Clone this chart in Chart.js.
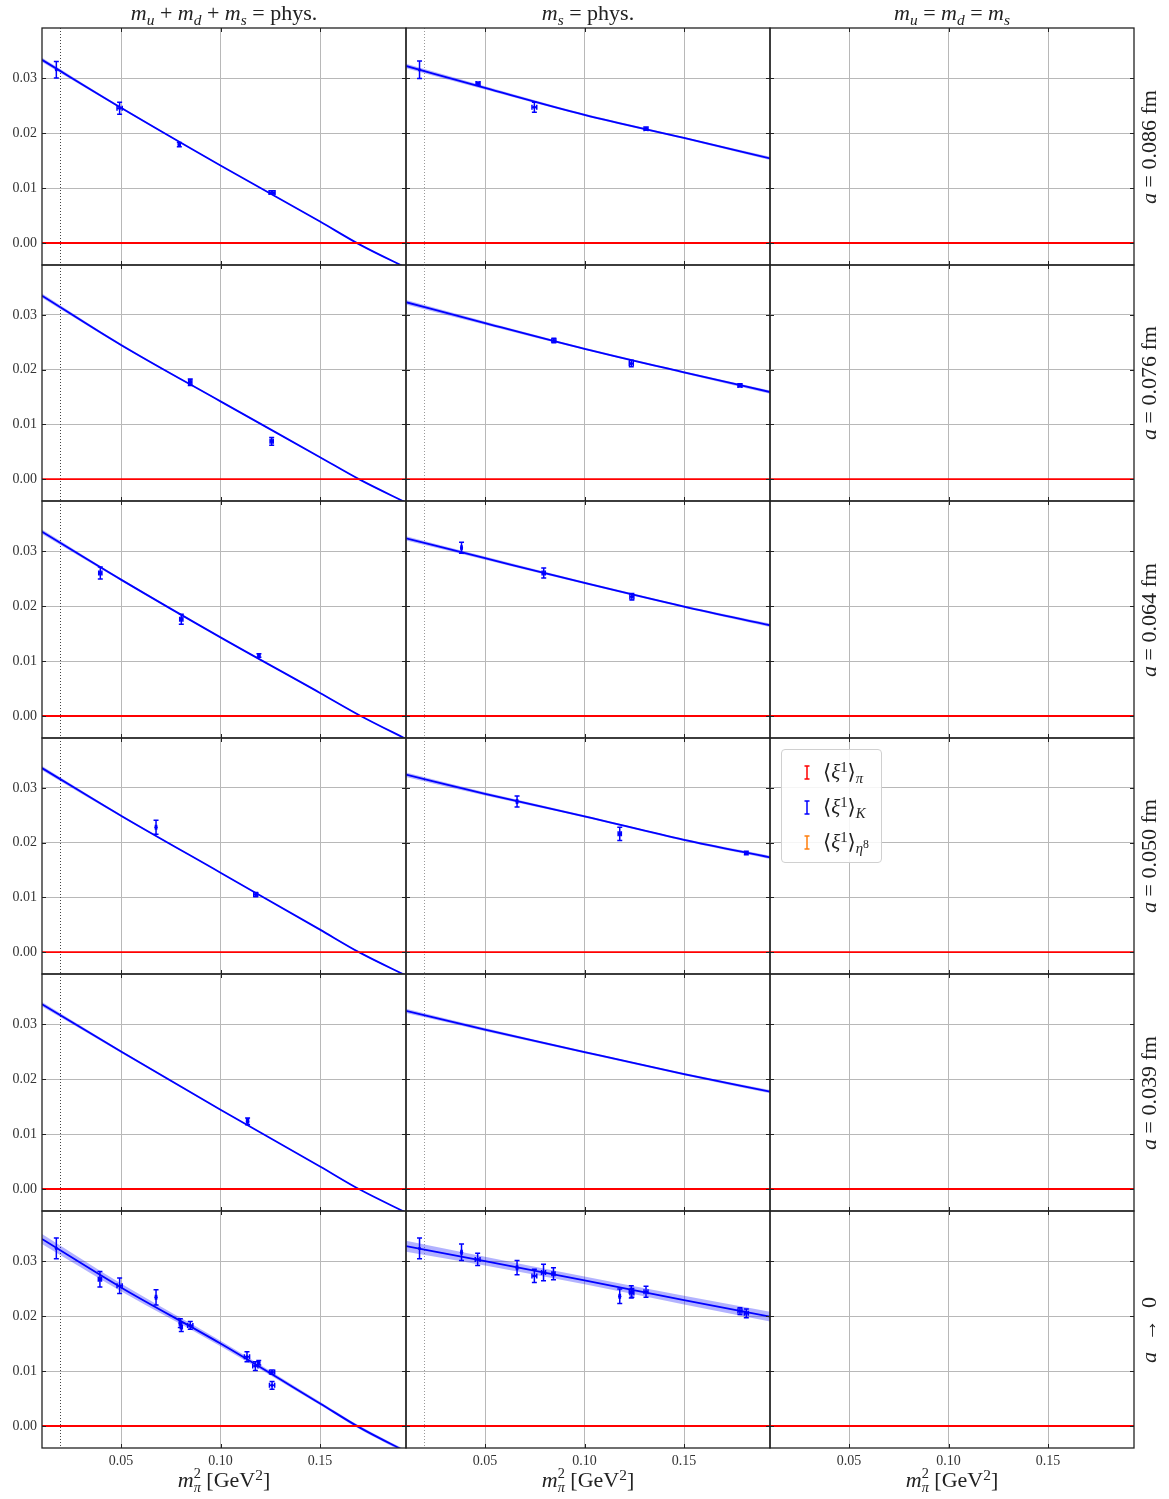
<!DOCTYPE html>
<html>
<head>
<meta charset="utf-8">
<script src="https://cdn.jsdelivr.net/npm/chart.js@4.4.0/dist/chart.umd.min.js"></script>
<style>
  body { margin: 0; background: #fff; }
  #fig { position: relative; width: 1169px; height: 1499px; font-family: 'Liberation Serif', 'DejaVu Serif', serif; color: #222; }
  #fig canvas { position: absolute; }
  .lbl { position: absolute; white-space: nowrap; font-size: 22px; line-height: 24px; }
  .lbl sub { font-size: 0.7em; vertical-align: -0.3em; line-height: 0; }
  .lbl sup { font-size: 0.7em; vertical-align: 0.45em; line-height: 0; }
  .ss { display: inline-block; vertical-align: -0.35em; font-size: 0.65em; line-height: 0.95; }
  .ss span { display: block; }
  .rot { transform: translate(-50%, -50%) rotate(-90deg); }
  .hc { transform: translateX(-50%); }
  #legend { position: absolute; left: 781px; top: 749px; width: 101px; height: 114px; box-sizing: border-box;
            border: 1px solid #d0d0d0; border-radius: 4px; background: rgba(255,255,255,0.85); }
  #legend .row { position: absolute; left: 0; height: 24px; font-size: 21px; line-height: 24px; white-space: nowrap; }
  #legend svg { position: absolute; left: 21px; top: 5px; }
  #legend .t { position: absolute; left: 41px; top: 0; }
  #legend sub { font-size: 0.7em; vertical-align: -0.3em; line-height: 0; }
  #legend sup { font-size: 0.7em; vertical-align: 0.45em; line-height: 0; }
  #legend sub sup { font-size: 0.8em; }
</style>
</head>
<body>
<div id="fig"></div>
<script>
// axis limits and ticks
const X_MIN = 0.0103, X_MAX = 0.1932;
const Y_MIN = -0.004, Y_MAX = 0.0391;
const xTicks = [0.05, 0.10, 0.15];
const yTicks = [0.00, 0.01, 0.02, 0.03];
const mPiPhys2 = 0.0192;

const colTitles = [
  '<i>m</i><sub><i>u</i></sub> + <i>m</i><sub><i>d</i></sub> + <i>m</i><sub><i>s</i></sub> = phys.',
  '<i>m</i><sub><i>s</i></sub> = phys.',
  '<i>m</i><sub><i>u</i></sub> = <i>m</i><sub><i>d</i></sub> = <i>m</i><sub><i>s</i></sub>'
];
const rowLabels = [
  '<i>a</i> = 0.086 fm', '<i>a</i> = 0.076 fm', '<i>a</i> = 0.064 fm',
  '<i>a</i> = 0.050 fm', '<i>a</i> = 0.039 fm', '<i>a</i> &nbsp;→&nbsp; 0'
];
const xLabel = '<i>m</i><span class="ss"><span>2</span><span><i>π</i></span></span> [GeV<sup>2</sup>]';

// fit curves, column 1 (m_u+m_d+m_s = phys.)
const fitX1 = [0.0103, 0.05, 0.10, 0.15, 0.17, 0.195];
const fitY1 = [
  [0.0333, 0.0246, 0.0141, 0.0039, -0.0003, -0.0048],
  [0.0335, 0.0245, 0.0142, 0.0040, -0.0001, -0.0046],
  [0.0335, 0.0248, 0.0143, 0.0042, 0.0001, -0.0045],
  [0.0336, 0.0249, 0.0145, 0.0041, -0.0001, -0.0046],
  [0.0336, 0.0250, 0.0144, 0.0041, -0.0001, -0.0046],
  [0.0340, 0.0252, 0.0150, 0.0041, -0.0003, -0.0050]
];
const fitE1 = [
  [0.0004, 0.0002, 0.0001, 0.0001, 0.0001, 0.0001],
  [0.0004, 0.0002, 0.0001, 0.0001, 0.0001, 0.0001],
  [0.0004, 0.0002, 0.0001, 0.0001, 0.0001, 0.0001],
  [0.0004, 0.0002, 0.0001, 0.0001, 0.0001, 0.0001],
  [0.0004, 0.0002, 0.0001, 0.0001, 0.0001, 0.0001],
  [0.0009, 0.0007, 0.0005, 0.0003, 0.0003, 0.0003]
];

// fit curves, column 2 (m_s = phys.)
const fitX2 = [0.0103, 0.05, 0.10, 0.15, 0.1932];
const fitY2 = [
  [0.0322, 0.0282, 0.0233, 0.0191, 0.0154],
  [0.0323, 0.0285, 0.0238, 0.0195, 0.0159],
  [0.0323, 0.0287, 0.0242, 0.0199, 0.0165],
  [0.0324, 0.0289, 0.0248, 0.0205, 0.0173],
  [0.0324, 0.0290, 0.0249, 0.0209, 0.0177],
  [0.0327, 0.0300, 0.0265, 0.0229, 0.0199]
];
const fitE2 = [
  [0.0004, 0.0003, 0.0002, 0.0002, 0.0003],
  [0.0004, 0.0003, 0.0002, 0.0002, 0.0003],
  [0.0004, 0.0003, 0.0002, 0.0002, 0.0003],
  [0.0004, 0.0003, 0.0002, 0.0002, 0.0003],
  [0.0004, 0.0003, 0.0002, 0.0002, 0.0003],
  [0.0010, 0.0008, 0.0007, 0.0008, 0.0009]
];

// lattice points <xi^1>_K : [m_pi^2, value, x err, y err]
const pts1 = [
  [[0.0175, 0.0315, 0, 0.0015], [0.0493, 0.0245, 0.0013, 0.0011], [0.0793, 0.0179, 0.0005, 0.0004], [0.1259, 0.0092, 0.0015, 0.0003]],
  [[0.0848, 0.0177, 0.0008, 0.0006], [0.1257, 0.0069, 0.0008, 0.0007]],
  [[0.0396, 0.0260, 0.0008, 0.0011], [0.0803, 0.0176, 0.0008, 0.0009], [0.1193, 0.0110, 0.0005, 0.0003]],
  [[0.0676, 0.0228, 0.0003, 0.0013], [0.1177, 0.0105, 0.0010, 0.0004]],
  [[0.1136, 0.0123, 0.0005, 0.0006]],
  [[0.0175, 0.0323, 0, 0.0019], [0.0394, 0.0267, 0.0008, 0.0014], [0.0493, 0.0255, 0.0013, 0.0014],
   [0.0676, 0.0234, 0.0003, 0.0014], [0.0798, 0.0187, 0.0005, 0.0008], [0.0803, 0.0180, 0.0005, 0.0008],
   [0.0848, 0.0183, 0.0013, 0.0007], [0.1133, 0.0126, 0.0013, 0.0009], [0.1175, 0.0109, 0.0013, 0.0008],
   [0.1192, 0.0115, 0.0005, 0.0004], [0.1259, 0.0098, 0.0013, 0.0004], [0.1259, 0.0074, 0.0013, 0.0007]]
];
const pts2 = [
  [[0.0171, 0.0315, 0, 0.0016], [0.0465, 0.0290, 0.0010, 0.0003], [0.0748, 0.0247, 0.0012, 0.0009], [0.1309, 0.0208, 0.0010, 0.0003]],
  [[0.0846, 0.0253, 0.0010, 0.0004], [0.1235, 0.0211, 0.0010, 0.0006], [0.1781, 0.0171, 0.0010, 0.0003]],
  [[0.0382, 0.0306, 0.0003, 0.0010], [0.0795, 0.0260, 0.0008, 0.0009], [0.1238, 0.0217, 0.0010, 0.0006]],
  [[0.0661, 0.0275, 0.0003, 0.0010], [0.1177, 0.0216, 0.0008, 0.0012], [0.1813, 0.0181, 0.0008, 0.0003]],
  [],
  [[0.0171, 0.0323, 0, 0.0019], [0.0382, 0.0316, 0.0003, 0.0015], [0.0463, 0.0303, 0.0012, 0.0011],
   [0.0661, 0.0288, 0.0003, 0.0013], [0.0748, 0.0273, 0.0012, 0.0012], [0.0794, 0.0279, 0.0010, 0.0015],
   [0.0844, 0.0277, 0.0008, 0.0011], [0.1177, 0.0236, 0.0003, 0.0013], [0.1235, 0.0244, 0.0010, 0.0011],
   [0.1238, 0.0242, 0.0010, 0.0008], [0.1309, 0.0244, 0.0010, 0.0010], [0.1781, 0.0209, 0.0010, 0.0006],
   [0.1813, 0.0205, 0.0010, 0.0008]]
];

// layout of the grid of panels
const colL = [42, 406, 770], colW = 364;
const rowT = [28, 265, 501, 738, 974, 1211, 1448];
const padL = 50, padR = 12, padT = 22, padB = 34;
const BLUE = '#0000ff';

const fig = document.getElementById('fig');

const errorBars = {
  id: 'errorBars',
  afterDatasetsDraw(chart) {
    const { ctx, scales: { x, y } } = chart;
    chart.data.datasets.forEach(ds => {
      if (!ds.errs) return;
      ctx.save();
      ctx.strokeStyle = ds.borderColor;
      ctx.lineWidth = 1.5;
      ds.data.forEach((p, i) => {
        const [ex, ey] = ds.errs[i];
        const px = x.getPixelForValue(p.x), py = y.getPixelForValue(p.y);
        const cap = 2.5;
        ctx.beginPath();
        const ya = y.getPixelForValue(p.y - ey), yb = y.getPixelForValue(p.y + ey);
        ctx.moveTo(px, ya); ctx.lineTo(px, yb);
        ctx.moveTo(px - cap, ya); ctx.lineTo(px + cap, ya);
        ctx.moveTo(px - cap, yb); ctx.lineTo(px + cap, yb);
        if (ex > 0) {
          const xa = x.getPixelForValue(p.x - ex), xb = x.getPixelForValue(p.x + ex);
          ctx.moveTo(xa, py); ctx.lineTo(xb, py);
          ctx.moveTo(xa, py - cap); ctx.lineTo(xa, py + cap);
          ctx.moveTo(xb, py - cap); ctx.lineTo(xb, py + cap);
        }
        ctx.stroke();
      });
      ctx.restore();
    });
  }
};

const frame = {
  id: 'frame',
  beforeDatasetsDraw(chart, args, opts) {
    if (!opts.physLine) return;
    const { ctx, chartArea: a, scales: { x } } = chart;
    const px = Math.round(x.getPixelForValue(mPiPhys2)) + 0.5;
    ctx.save();
    ctx.strokeStyle = opts.physLine;
    ctx.lineWidth = 1;
    ctx.setLineDash([1, 2]);
    ctx.beginPath(); ctx.moveTo(px, a.top); ctx.lineTo(px, a.bottom); ctx.stroke();
    ctx.restore();
  },
  afterDraw(chart) {
    const { ctx, chartArea: a, scales: { x, y } } = chart;
    ctx.save();
    ctx.strokeStyle = '#222';
    ctx.lineWidth = 1;
    ctx.beginPath();
    xTicks.forEach(v => {
      const px = Math.round(x.getPixelForValue(v)) + 0.5;
      ctx.moveTo(px, a.top); ctx.lineTo(px, a.top + 4);
      ctx.moveTo(px, a.bottom); ctx.lineTo(px, a.bottom - 4);
    });
    yTicks.forEach(v => {
      const py = Math.round(y.getPixelForValue(v)) + 0.5;
      ctx.moveTo(a.left, py); ctx.lineTo(a.left + 4, py);
      ctx.moveTo(a.right, py); ctx.lineTo(a.right - 4, py);
    });
    ctx.stroke();
    ctx.lineWidth = 1.3;
    ctx.strokeRect(a.left, a.top, a.right - a.left, a.bottom - a.top);
    ctx.restore();
  }
};

function fitSets(xs, ys, es) {
  const smooth = { showLine: true, pointRadius: 0, cubicInterpolationMode: 'monotone' };
  return [
    { ...smooth, data: xs.map((x, i) => ({ x, y: ys[i] - es[i] })), borderWidth: 0,
      borderColor: 'rgba(0,0,255,0)', fill: false },
    { ...smooth, data: xs.map((x, i) => ({ x, y: ys[i] + es[i] })), borderWidth: 0,
      borderColor: 'rgba(0,0,255,0)', fill: '-1', backgroundColor: 'rgba(0,0,255,0.3)' },
    { ...smooth, data: xs.map((x, i) => ({ x, y: ys[i] })), borderWidth: 1.8,
      borderColor: BLUE, fill: false }
  ];
}

function makePanel(r, c) {
  const h = rowT[r + 1] - rowT[r];
  const cv = document.createElement('canvas');
  const W = colW + padL + padR, H = h + padT + padB;
  cv.width = W; cv.height = H;
  cv.style.left = (colL[c] - padL) + 'px';
  cv.style.top = (rowT[r] - padT) + 'px';
  cv.style.width = W + 'px'; cv.style.height = H + 'px';
  fig.appendChild(cv);

  const datasets = [
    { data: [{ x: X_MIN, y: 0 }, { x: X_MAX, y: 0 }], showLine: true, borderColor: '#ff0000',
      borderWidth: 1.8, pointRadius: 0, fill: false }
  ];
  let pts = [];
  if (c === 0) { datasets.push(...fitSets(fitX1, fitY1[r], fitE1[r])); pts = pts1[r]; }
  if (c === 1) { datasets.push(...fitSets(fitX2, fitY2[r], fitE2[r])); pts = pts2[r]; }
  if (pts.length) {
    datasets.push({
      data: pts.map(p => ({ x: p[0], y: p[1] })),
      errs: pts.map(p => [p[2], p[3]]),
      showLine: false, pointRadius: 1.6, pointBackgroundColor: BLUE,
      pointBorderColor: BLUE, borderColor: BLUE, borderWidth: 0
    });
  }

  const lastRow = r === rowT.length - 2;
  new Chart(cv, {
    type: 'scatter',
    data: { datasets },
    options: {
      responsive: false,
      animation: false,
      events: [],
      layout: { padding: { top: padT, right: padR, left: 0, bottom: 0 } },
      plugins: {
        legend: { display: false },
        tooltip: { enabled: false },
        frame: { physLine: c === 0 ? '#444' : (c === 1 ? '#999' : null) }
      },
      scales: {
        x: {
          type: 'linear', min: X_MIN, max: X_MAX,
          afterBuildTicks: s => { s.ticks = xTicks.map(v => ({ value: v })); },
          afterFit: s => { s.height = padB; },
          grid: { color: '#b8b8b8', lineWidth: 1, drawTicks: false },
          border: { display: false },
          ticks: {
            display: lastRow, padding: 5, color: '#333',
            font: { family: "'Liberation Serif', serif", size: 14 },
            callback: v => v.toFixed(2)
          }
        },
        y: {
          type: 'linear', min: Y_MIN, max: Y_MAX,
          afterBuildTicks: s => { s.ticks = yTicks.map(v => ({ value: v })); },
          afterFit: s => { s.width = padL; },
          grid: { color: '#b8b8b8', lineWidth: 1, drawTicks: false },
          border: { display: false },
          ticks: {
            display: c === 0, padding: 5, color: '#333',
            font: { family: "'Liberation Serif', serif", size: 14 },
            callback: v => v.toFixed(2)
          }
        }
      }
    },
    plugins: [errorBars, frame]
  });
}

for (let r = 0; r < 6; r++) for (let c = 0; c < 3; c++) makePanel(r, c);

function addLabel(html, x, y, cls) {
  const d = document.createElement('div');
  d.className = 'lbl ' + cls;
  d.innerHTML = html;
  d.style.left = x + 'px';
  d.style.top = y + 'px';
  fig.appendChild(d);
}

colTitles.forEach((t, c) => {
  const cx = colL[c] + colW / 2;
  addLabel(t, cx, 1, 'hc');
  addLabel(xLabel, cx, 1467, 'hc');
});
rowLabels.forEach((t, r) => addLabel(t, 1149, (rowT[r] + rowT[r + 1]) / 2, 'rot'));

// legend
const legendItems = [
  ['#ff0000', '⟨<i>ξ</i><sup>1</sup>⟩<sub><i>π</i></sub>'],
  [BLUE, '⟨<i>ξ</i><sup>1</sup>⟩<sub><i>K</i></sub>'],
  ['#ff7f0e', '⟨<i>ξ</i><sup>1</sup>⟩<sub><i>η</i><sup>8</sup></sub>']
];
const leg = document.createElement('div');
leg.id = 'legend';
legendItems.forEach(([col, txt], i) => {
  const row = document.createElement('div');
  row.className = 'row';
  row.style.top = (10 + i * 35) + 'px';
  row.innerHTML = '<svg width="8" height="15"><path d="M4 1 V14 M1.5 1 H6.5 M1.5 14 H6.5" stroke="' + col +
    '" stroke-width="1.5" fill="none"/></svg><span class="t">' + txt + '</span>';
  leg.appendChild(row);
});
fig.appendChild(leg);
</script>
</body>
</html>
